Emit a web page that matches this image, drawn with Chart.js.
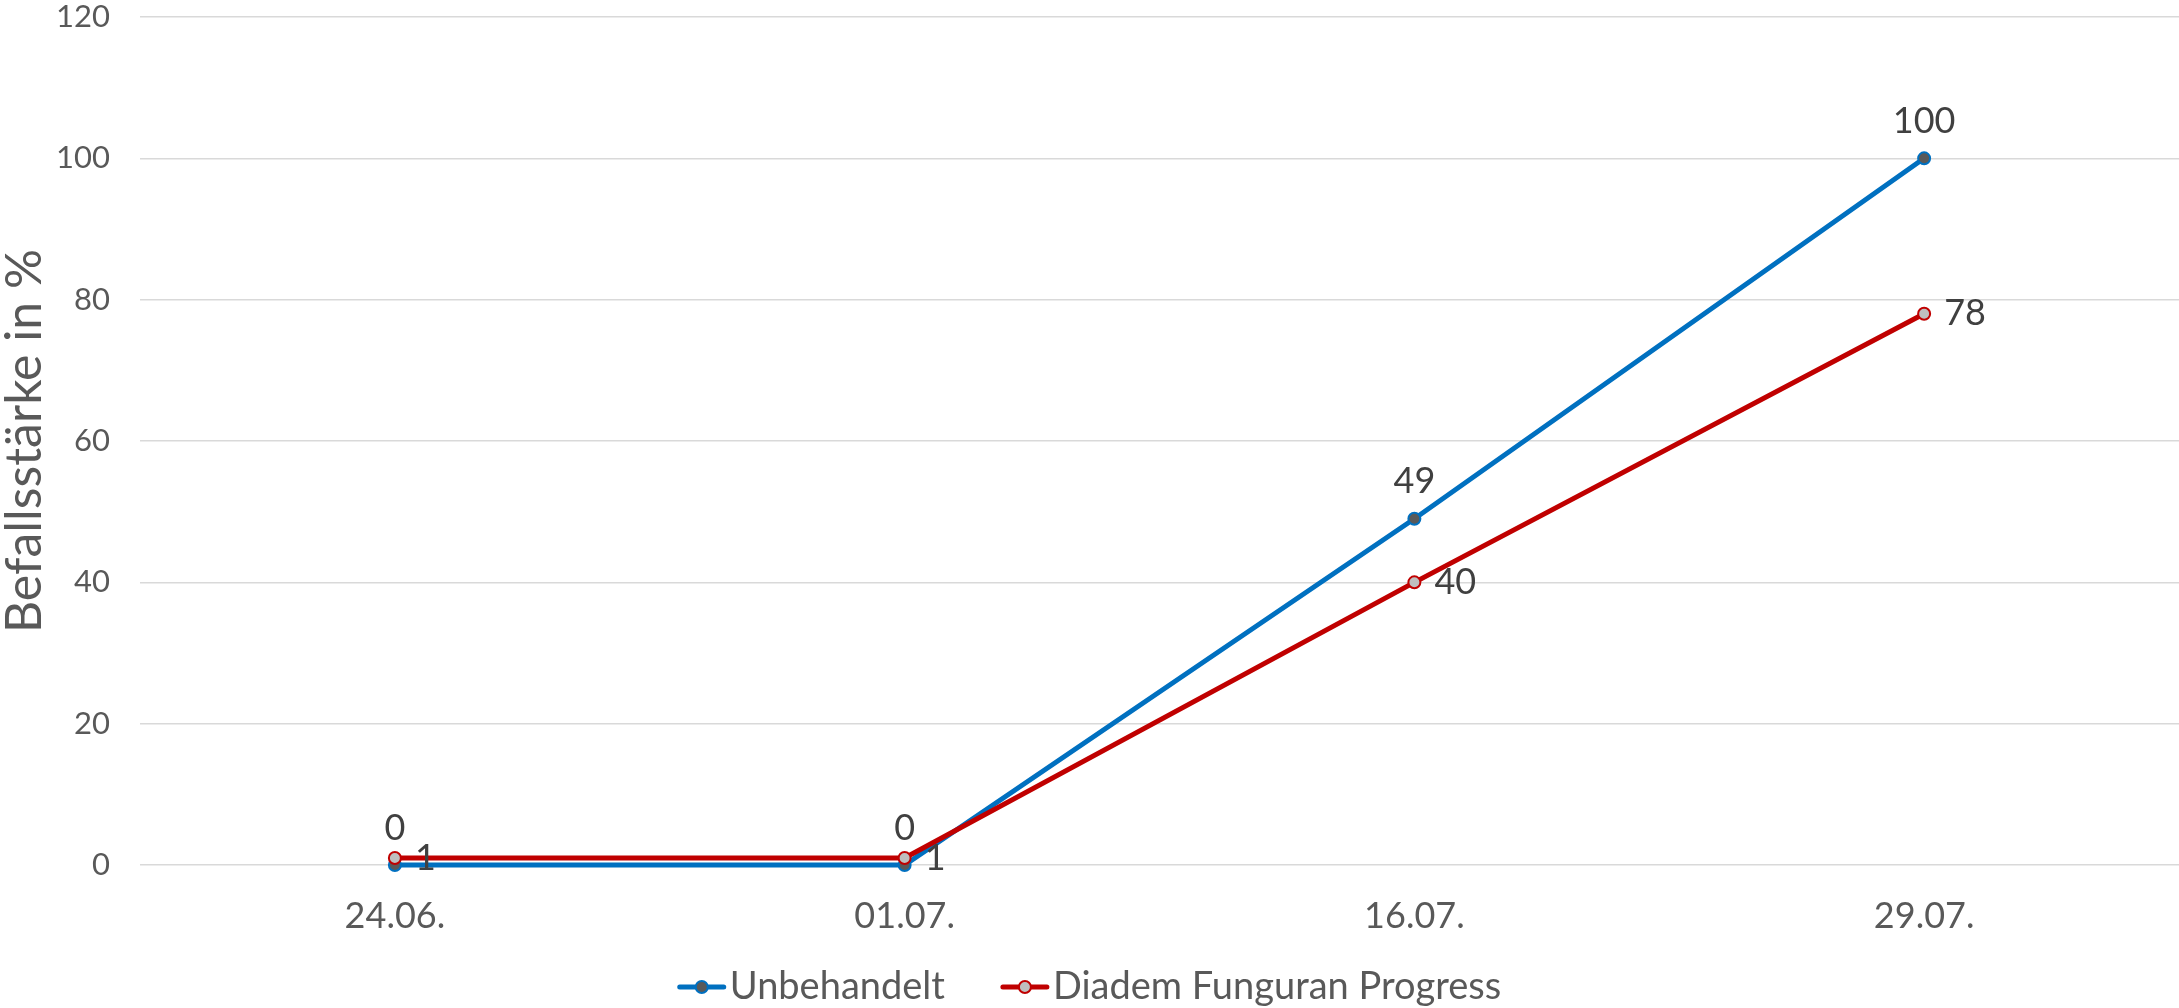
<!DOCTYPE html>
<html>
<head>
<meta charset="utf-8">
<title>Befallsstärke</title>
<script src="https://cdn.jsdelivr.net/npm/chart.js@4.4.1/dist/chart.umd.min.js"></script>
<style>
  html, body { margin: 0; padding: 0; background: #ffffff; }
  #wrap { width: 2179px; height: 1008px; }
</style>
</head>
<body>
<div id="wrap"><canvas id="chart" width="2179" height="1008"></canvas></div>
<script>
// Sampling dates and infestation levels (%)
const dates = ['24.06.', '01.07.', '16.07.', '29.07.'];
const unbehandelt = [0, 0, 49, 100];
const diadem = [1, 1, 40, 78];
const seriesNames = ['Unbehandelt', 'Diadem Funguran Progress'];
const yMin = 0;
const yMax = 120;
const yStep = 20;

const FONT = 'Lato, "Open Sans", sans-serif';
const BLUE = '#0070C0';
const RED = '#C00000';

// Numeric value labels next to each marker
const valueLabels = {
  id: 'valueLabels',
  afterDatasetsDraw(chart) {
    const ctx = chart.ctx;
    chart.data.datasets.forEach((ds, i) => {
      const meta = chart.getDatasetMeta(i);
      meta.data.forEach((pt, j) => {
        ctx.save();
        ctx.font = '36px ' + FONT;
        ctx.fillStyle = '#404040';
        ctx.textBaseline = 'middle';
        const txt = String(ds.data[j]);
        if (ds.labelPosition === 'top') {
          ctx.textAlign = 'center';
          ctx.fillText(txt, pt.x, pt.y - 37);
        } else {
          ctx.textAlign = 'left';
          ctx.fillText(txt, pt.x + 20, pt.y);
        }
        ctx.restore();
      });
    });
  }
};

// Legend with line + marker symbols, centred under the chart
const lineLegend = {
  id: 'lineLegend',
  afterDraw(chart) {
    const ctx = chart.ctx;
    const y = 987;
    const symW = 48, gap = 4, itemGap = 56;
    ctx.save();
    ctx.font = '38px ' + FONT;
    const items = chart.data.datasets.map(ds => ({
      ds, w: symW + gap + ctx.measureText(ds.label).width
    }));
    const total = items.reduce((s, it) => s + it.w, 0) + itemGap * (items.length - 1);
    let x = chart.width / 2 - total / 2;
    items.forEach(it => {
      const ds = it.ds;
      ctx.strokeStyle = ds.borderColor;
      ctx.lineWidth = 5;
      ctx.lineCap = 'round';
      ctx.beginPath();
      ctx.moveTo(x + 2, y);
      ctx.lineTo(x + symW - 2, y);
      ctx.stroke();
      ctx.beginPath();
      ctx.arc(x + symW / 2, y, 6, 0, Math.PI * 2);
      ctx.fillStyle = ds.pointBackgroundColor;
      ctx.fill();
      ctx.lineWidth = 2;
      ctx.strokeStyle = ds.pointBorderColor;
      ctx.stroke();
      ctx.fillStyle = '#595959';
      ctx.textAlign = 'left';
      ctx.textBaseline = 'middle';
      ctx.fillText(ds.label, x + symW + gap, y);
      x += it.w + itemGap;
    });
    ctx.restore();
  }
};

new Chart(document.getElementById('chart'), {
  type: 'line',
  data: {
    labels: dates,
    datasets: [
      {
        label: seriesNames[0],
        data: unbehandelt,
        borderColor: BLUE,
        borderWidth: 5,
        pointRadius: 6,
        pointBorderWidth: 2,
        pointBackgroundColor: '#595959',
        pointBorderColor: BLUE,
        tension: 0,
        clip: false,
        order: 2,
        labelPosition: 'top'
      },
      {
        label: seriesNames[1],
        data: diadem,
        borderColor: RED,
        borderWidth: 5,
        pointRadius: 6,
        pointBorderWidth: 2,
        pointBackgroundColor: '#BFBFBF',
        pointBorderColor: RED,
        tension: 0,
        clip: false,
        order: 1,
        labelPosition: 'right'
      }
    ]
  },
  options: {
    responsive: false,
    devicePixelRatio: 1,
    animation: false,
    layout: { autoPadding: false, padding: { left: 0, right: 0, top: 17, bottom: 63 } },
    plugins: {
      legend: { display: false },
      tooltip: { enabled: false }
    },
    scales: {
      x: {
        offset: true,
        grid: { display: false, drawTicks: false },
        border: { display: false },
        ticks: {
          color: '#595959',
          font: { family: FONT, size: 36 },
          padding: 30
        },
        afterFit(scale) { scale.height = 80; scale.paddingLeft = 0; scale.paddingRight = 0; }
      },
      y: {
        min: yMin,
        max: yMax,
        grid: { color: '#D9D9D9', lineWidth: 1.5, drawTicks: false },
        border: { display: false },
        ticks: {
          stepSize: yStep,
          color: '#595959',
          font: { family: FONT, size: 31 },
          padding: 30
        },
        title: {
          display: true,
          text: 'Befallsstärke in %',
          color: '#595959',
          font: { family: FONT, size: 50, lineHeight: 1 },
          padding: 0
        },
        afterFit(scale) { scale.width = 140; scale.paddingTop = 0; scale.paddingBottom = 0; }
      }
    }
  },
  plugins: [valueLabels, lineLegend]
});
</script>
</body>
</html>
